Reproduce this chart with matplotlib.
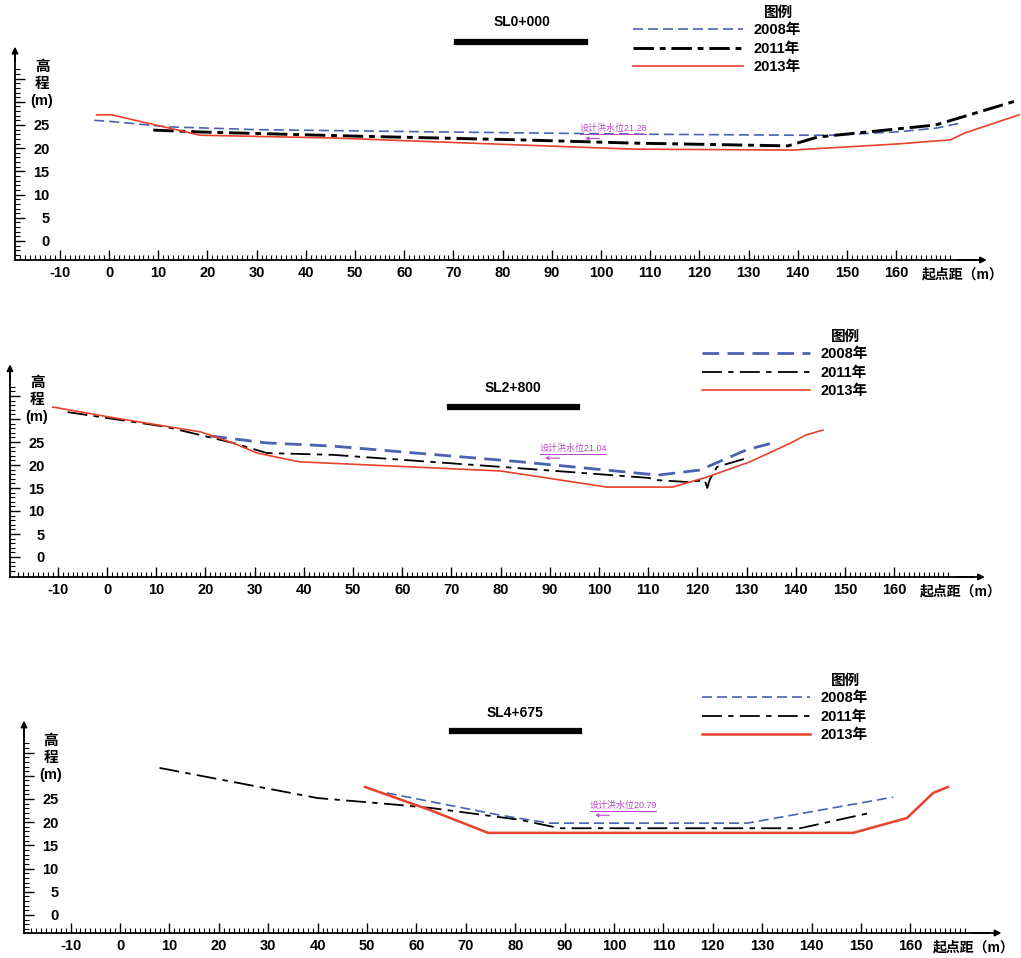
#%% imports

import numpy as np
import matplotlib
matplotlib.use('Agg')
import matplotlib.pyplot as plt
from matplotlib.lines import Line2D

plt.rcParams['font.family'] = ['Liberation Sans', 'Noto Sans CJK SC', 'DejaVu Sans']

#%% data

sections = ['SL0+000', 'SL2+800', 'SL4+675']
years = ['2008年', '2011年', '2013年']
design_levels = [21.28, 21.04, 20.79]
x_ticks = list(range(-10, 161, 10))
y_ticks = [0, 5, 10, 15, 20, 25]

# SL0+000
s0_x08 = [-3, 0, 12, 30, 60, 84, 110, 140, 147, 160, 168, 173]
s0_y08 = [26.0, 25.8, 24.6, 24.0, 23.6, 23.3, 23.0, 22.8, 22.8, 23.5, 24.3, 25.4]
s0_x11 = [9, 18.5, 50, 83.5, 106.5, 138, 144, 168, 185]
s0_y11 = [23.9, 23.5, 22.6, 21.8, 21.1, 20.5, 22.4, 25.0, 30.4]
s0_x13 = [-2.5, 0.5, 18.5, 45.5, 83.5, 106.5, 139, 160, 171, 174, 185]
s0_y13 = [27.2, 27.2, 22.8, 22.2, 20.7, 19.8, 19.6, 20.9, 21.8, 23.3, 27.2]

# SL2+800
s1_x08 = [21, 32.5, 46, 84, 112, 120.5, 130, 136]
s1_y08 = [26.3, 24.8, 24.1, 20.7, 17.8, 18.9, 23.3, 25.0]
s1_x11 = [-8, 12, 25.6, 32.5, 46, 80, 110, 112, 118, 121.5, 122, 122.5, 124, 130.7]
s1_y11 = [31.5, 28.3, 24.8, 22.6, 22.2, 19.6, 17.2, 16.7, 16.3, 16.7, 15.0, 16.8, 19.6, 21.7]
s1_x13 = [-11, 0.6, 19, 25.6, 30.5, 39, 80, 101.6, 115, 122, 130.7, 139, 142, 145.5]
s1_y13 = [32.6, 30.4, 27.2, 24.8, 22.6, 20.7, 18.7, 15.2, 15.2, 17.4, 20.7, 24.8, 26.5, 27.6]

# SL4+675
s2_x08 = [54, 77, 87, 127, 156.5]
s2_y08 = [26.3, 21.5, 19.8, 19.8, 25.4]
s2_x11 = [8, 40, 56.7, 63.4, 81, 89, 137.7, 151.8]
s2_y11 = [31.7, 25.2, 23.7, 23.0, 20.5, 18.7, 18.7, 22.0]
s2_x13 = [49.6, 62.8, 74.5, 148.4, 159.3, 164.6, 167.6]
s2_y13 = [27.6, 22.6, 17.7, 17.7, 20.9, 26.3, 27.6]

profiles = [
    [(s0_x08, s0_y08), (s0_x11, s0_y11), (s0_x13, s0_y13)],
    [(s1_x08, s1_y08), (s1_x11, s1_y11), (s1_x13, s1_y13)],
    [(s2_x08, s2_y08), (s2_x11, s2_y11), (s2_x13, s2_y13)],
]

#%% layout (pixels)

W, H = 1021, 958
BLUE, RED, MAG = '#4a62b0', '#e8412c', '#b548c6'

# top, bottom, x0px, px/m x, y0px, px/m y, spine x px, base px
geo = [
    (0, 295, 109, 4.92, 241, 4.64, 15, 260),
    (300, 620, 107, 4.92, 557, 4.60, 10, 577),
    (625, 958, 120, 4.94, 915, 4.64, 24, 933),
]
# title centre, bar ends & y, legend top-left, annotation x/y (data), x-label left px
deco = [
    dict(title=(522, 22), bar=(457, 585, 42), leg=(633, 33), hl=110, ann=(95.7, 24.3), xlab=922),
    dict(title=(513, 388), bar=(450, 577, 407), leg=(702, 357), hl=108, ann=(88.0, 23.7), xlab=920),
    dict(title=(515, 713), bar=(452, 579, 731), leg=(702, 701), hl=108, ann=(95.1, 23.7), xlab=933),
]
lws = [(1.2, 2.1, 1.2), (2.0, 1.3, 1.2), (1.2, 1.3, 1.8)]

fig = plt.figure(figsize=(W / 100, H / 100), dpi=100)


def fx(px):
    return px / W


def fy(py):
    return 1 - py / H


for i, (top, bot, x0, sx, y0, sy, spx, bpx) in enumerate(geo):
    ax = fig.add_axes([0, fy(bot), 1, (bot - top) / H])
    ax.set_xlim(-x0 / sx, (W - x0) / sx)
    ax.set_ylim((y0 - bot) / sy, (y0 - top) / sy)
    ax.patch.set_alpha(0)
    xl = (spx - x0) / sx
    yb = (y0 - bpx) / sy

    for s in ['top', 'right']:
        ax.spines[s].set_visible(False)
    ax.spines['left'].set_position(('data', xl))
    ax.spines['bottom'].set_position(('data', yb))
    ax.spines['left'].set_bounds(yb, 40)
    ax.spines['bottom'].set_bounds(xl, 176)
    for s in ['left', 'bottom']:
        ax.spines[s].set_linewidth(1.3)
    ax.annotate('', xy=(xl, 42.5), xytext=(xl, 38),
                arrowprops=dict(arrowstyle='-|>', color='k', lw=1.3,
                                mutation_scale=9))
    ax.annotate('', xy=(179, yb), xytext=(172, yb),
                arrowprops=dict(arrowstyle='-|>', color='k', lw=1.3,
                                mutation_scale=9))

    ax.set_xticks(x_ticks)
    ax.set_xticks(np.arange(-18, 172, 1), minor=True)
    ax.set_xticklabels([str(v) for v in x_ticks])
    ax.set_yticks(y_ticks + [30, 35])
    ax.set_yticks(np.arange(-3, 38, 1), minor=True)
    ax.set_yticklabels([str(v) for v in y_ticks] + ['', ''])
    ax.tick_params(axis='x', which='major', direction='in', length=7, width=1,
                   pad=4, labelsize=10.5)
    ax.tick_params(axis='x', which='minor', direction='in', length=3.5, width=0.8)
    ax.tick_params(axis='y', which='major', direction='in', length=7, width=1,
                   pad=-25, labelsize=10.5)
    ax.tick_params(axis='y', which='minor', direction='in', length=3.5, width=0.8)
    for lab in ax.get_xticklabels() + ax.get_yticklabels():
        lab.set_fontweight('bold')

    d = deco[i]
    ax.text(xl + 27 / sx, 157 / sy, '高\n程\n(m)', ha='center', va='center',
            fontsize=10.5, fontweight='bold', linespacing=1.3)
    ax.text(xl + (d['xlab'] - spx) / sx, yb - 14 / sy, '起点距（m）', ha='left',
            va='center', fontsize=10, fontweight='bold')

    # profiles
    (x08, y08), (x11, y11), (x13, y13) = profiles[i]
    w08, w11, w13 = lws[i]
    l08, = ax.plot(x08, y08, color=BLUE, lw=w08, dashes=(6, 3), label=years[0])
    d11 = (7, 2, 2, 2) if w11 > 2 else (11, 3.5, 3, 3.5)
    l11, = ax.plot(x11, y11, color='k', lw=w11, dashes=d11, label=years[1])
    l13, = ax.plot(x13, y13, color=RED, lw=w13, label=years[2])

    # design water level note
    ax_, ay_ = d['ann']
    ax.text(ax_, ay_, '设计洪水位%.2f' % design_levels[i], color=MAG,
            fontsize=6.5, ha='left', va='center')
    ax.plot([ax_, ax_ + 13.5], [ay_ - 1.2, ay_ - 1.2], color=MAG, lw=0.7)
    ax.annotate('', xy=(ax_ + 0.5, ay_ - 2.2), xytext=(ax_ + 4.5, ay_ - 2.2),
                arrowprops=dict(arrowstyle='->', color=MAG, lw=0.8,
                                mutation_scale=5))

    # section title with bar
    tx, ty = d['title']
    fig.text(fx(tx), fy(ty), sections[i], ha='center', va='center',
             fontsize=10, fontweight='bold')
    b0, b1, by = d['bar']
    fig.add_artist(Line2D([fx(b0), fx(b1)], [fy(by), fy(by)], color='k', lw=4.5))

    # legend
    lx, ly = d['leg']
    hl = d['hl']
    fig.legend(handles=[l08, l11, l13], loc='upper left',
               bbox_to_anchor=(fx(lx), fy(ly - 10)), frameon=False,
               handlelength=hl / 14.6, handletextpad=0.7,
               labelspacing=0.32, borderpad=0, borderaxespad=0,
               prop=dict(size=10.5, weight='bold'))
    fig.text(fx(lx + hl + 36), fy(ly - 20), '图例', ha='center', va='center',
             fontsize=10.5, fontweight='bold')

fig.savefig('out.png', dpi=100)
